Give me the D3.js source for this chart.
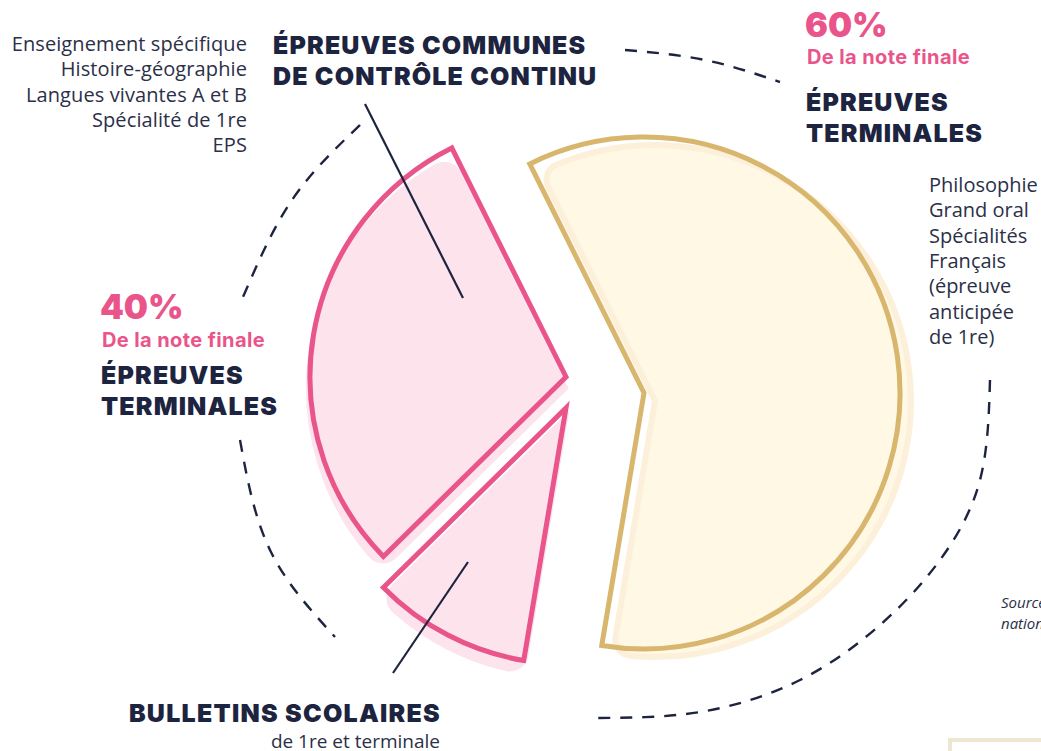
<!DOCTYPE html>
<html><head><meta charset="utf-8">
<script src="https://cdn.jsdelivr.net/npm/d3@7"></script>
<style>
html,body{margin:0;padding:0;background:#fff;overflow:hidden}
svg{display:block}
</style></head>
<body>
<svg id="chart" width="1041" height="751"></svg>
<script>
// ---- data ----
const categories = ["Épreuves terminales", "Bulletins scolaires", "Épreuves communes de contrôle continu"];
const shares = [60, 10, 30];
const leftList = ["Enseignement spécifique", "Histoire-géographie", "Langues vivantes A et B", "Spécialité de 1re", "EPS"];
const rightList = ["Philosophie", "Grand oral", "Spécialités", "Français", "(épreuve", "anticipée", "de 1re)"];
const pctLabels = ["60%", "40%"];
const subLabel = "De la note finale";

// ---- layout ----
const svg = d3.select("#chart");
const navy = "#1d2440", pink = "#e9558a", gold = "#d8b66d", body = "#2b3048";
const headFont = "Inter, 'Noto Sans', sans-serif";
const bodyFont = "'Open Sans', 'Noto Sans', sans-serif";
const R = 256;
const deg = Math.PI / 180;
const startDeg = -26.5;

const pie = d3.pie().sort(null).value(d => d)
  .startAngle(startDeg * deg).endAngle((startDeg + 360) * deg);
const arcs = pie(shares);

const anchors = [[644, 393], [566, 408], [566, 377]];
const fillShift = [[11, 8], [-1, 11], [-1, 11]];
const strokeCol = [gold, pink, pink];
const fillCol = ["#fef8e4", "#fde3ec", "#fde3ec"];
const fillEdge = ["#fdf0da", "#fde3ec", "#fde3ec"];

const outline = d3.arc().innerRadius(0).outerRadius(R);
const shadow = d3.arc().innerRadius(0).outerRadius(R).cornerRadius(16);

// dashed guide arcs
const dashSegs = [
  [[625, 50], [705, 60], [780, 82]],
  [[360, 125], [292, 200], [243, 297]],
  [[240, 440], [270, 550], [335, 637]],
  [[990, 380], [980, 480], [940, 560], [880, 625], [800, 680], [700, 712], [595, 718]]
];
svg.append("g").selectAll("path").data(dashSegs).join("path")
  .attr("d", d3.line().curve(d3.curveNatural))
  .attr("fill", "none").attr("stroke", navy).attr("stroke-width", 2.4)
  .attr("stroke-dasharray", "12 10");

// slices
const g = svg.append("g");
arcs.forEach((a, i) => {
  const [cx, cy] = anchors[i];
  g.append("path")
    .attr("transform", `translate(${cx + fillShift[i][0]},${cy + fillShift[i][1]})`)
    .attr("d", shadow(a))
    .attr("fill", fillCol[i]).attr("stroke", fillEdge[i]).attr("stroke-width", 6);
});
arcs.forEach((a, i) => {
  const [cx, cy] = anchors[i];
  g.append("path")
    .attr("transform", `translate(${cx},${cy})`)
    .attr("d", outline(a))
    .attr("fill", "none").attr("stroke", strokeCol[i]).attr("stroke-width", 5)
    .attr("stroke-linejoin", "miter");
});

// leader lines
svg.append("line").attr("x1", 365).attr("y1", 104).attr("x2", 463).attr("y2", 298)
  .attr("stroke", navy).attr("stroke-width", 2.2);
svg.append("line").attr("x1", 468).attr("y1", 562).attr("x2", 393).attr("y2", 673)
  .attr("stroke", navy).attr("stroke-width", 2.2);

// text helpers
function lines(x, y0, lh, arr, o) {
  const t = svg.append("text").attr("x", x).attr("y", y0)
    .attr("fill", o.fill || body).attr("font-family", o.font || bodyFont)
    .attr("font-size", o.size).attr("font-weight", o.weight || 400)
    .attr("text-anchor", o.anchor || "start");
  if (o.ls) t.attr("letter-spacing", o.ls);
  if (o.italic) t.attr("font-style", "italic");
  arr.forEach((s, i) => t.append("tspan").attr("x", x).attr("y", y0 + i * lh).text(s));
  return t;
}

const head = {size: 25, weight: 900, fill: navy, font: headFont, ls: 1.15};
const sub = {size: 20, weight: 700, fill: pink, font: headFont, ls: 0.4};
const pct = {size: 34, weight: 900, fill: pink, font: headFont};

lines(247, 51, 25.3, leftList, {size: 20, anchor: "end", ls: 0.1});
lines(273, 54, 31, ["ÉPREUVES COMMUNES", "DE CONTRÔLE CONTINU"], head);

lines(805, 37, 0, [pctLabels[0]], pct);
lines(807, 64, 0, [subLabel], sub);
lines(806, 111, 31, ["ÉPREUVES", "TERMINALES"], head);

lines(929, 192, 25.3, rightList, {size: 20});

lines(100, 319, 0, [pctLabels[1]], pct);
lines(102, 347, 0, [subLabel], sub);
lines(101, 384, 31, ["ÉPREUVES", "TERMINALES"], head);

lines(441, 722, 0, ["BULLETINS SCOLAIRES"], Object.assign({}, head, {anchor: "end", ls: 1.25}));
lines(440, 748, 0, ["de 1re et terminale"], {size: 19, anchor: "end"});

lines(1001, 608, 21, ["Source : ministère de", "nationale"], {size: 15, italic: true});

// corner frame (partially visible)
svg.append("rect").attr("x", 950).attr("y", 740).attr("width", 200).attr("height", 100)
  .attr("fill", "#fff").attr("stroke", "#efe6d2").attr("stroke-width", 4);
</script>
</body></html>
